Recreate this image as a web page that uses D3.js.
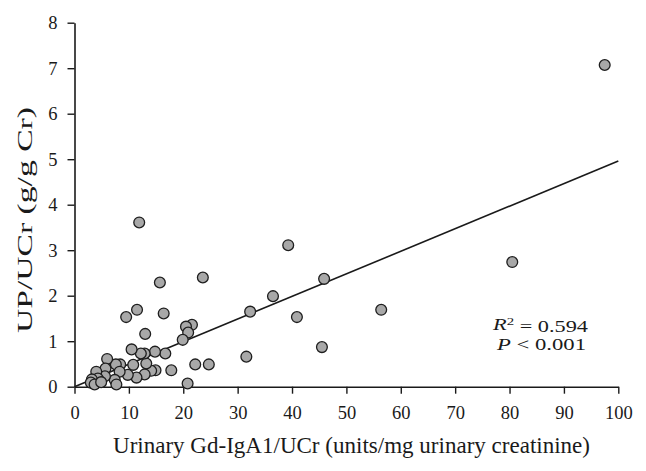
<!DOCTYPE html>
<html>
<head>
<meta charset="utf-8">
<script src="https://cdn.jsdelivr.net/npm/d3@7/dist/d3.min.js"></script>
<style>
  html, body { margin: 0; padding: 0; background: #ffffff; }
  svg { display: block; }
  text { font-family: "Liberation Serif", "DejaVu Serif", serif; fill: #1a1a1a; }
</style>
</head>
<body>
<svg id="chart" width="646" height="471"></svg>
<script>
// Data
const xValues = [97.5, 80.5, 56.4, 45.9, 45.5, 40.9, 39.3, 36.5, 32.3, 31.6,
  24.7, 23.6, 22.2, 21.6, 20.5, 20.9, 19.9, 20.8, 17.8, 16.7,
  16.4, 15.7, 14.8, 14.9, 14.1, 13.2, 13.0, 12.9, 12.2, 12.9,
  11.9, 11.5, 11.4, 10.5, 10.8, 9.5, 9.8, 8.4, 7.6, 8.3,
  7.4, 7.7, 6.0, 5.7, 5.6, 4.0, 4.3, 3.2, 3.0, 3.7, 4.9];
const yValues = [7.07, 2.74, 1.69, 2.37, 0.87, 1.53, 3.11, 1.99, 1.65, 0.66,
  0.49, 2.40, 0.49, 1.36, 1.32, 1.19, 1.03, 0.07, 0.36, 0.73,
  1.61, 2.29, 0.77, 0.36, 0.35, 0.51, 1.16, 0.73, 0.73, 0.27,
  3.61, 1.69, 0.20, 0.82, 0.48, 1.53, 0.26, 0.49, 0.49, 0.33,
  0.15, 0.05, 0.61, 0.40, 0.23, 0.33, 0.18, 0.16, 0.09, 0.05, 0.10];
const xTicks = [0, 10, 20, 30, 40, 50, 60, 70, 80, 90, 100];
const yTicks = [0, 1, 2, 3, 4, 5, 6, 7, 8];
const fitIntercept = 0;
const fitSlope = 0.0496;
const fitRange = [0, 100];
const statR2 = "0.594";
const statP = "0.001";
const xTitle = "Urinary Gd-IgA1/UCr (units/mg urinary creatinine)";
const yTitle = "UP/UCr (g/g Cr)";

const points = xValues.map((x, i) => ({ x: x, y: yValues[i] }));

const svg = d3.select("#chart");
const x = d3.scaleLinear().domain([0, 100]).range([74.5, 618.3]);
const y = d3.scaleLinear().domain([0, 8]).range([386.7, 22.7]);

// Axes
const xAxis = svg.append("g")
  .attr("transform", `translate(0,${y(0)})`)
  .call(d3.axisBottom(x).tickValues(xTicks).tickSize(7).tickPadding(12).tickSizeOuter(0).tickFormat(d3.format("d")));
const yAxis = svg.append("g")
  .attr("transform", `translate(${x(0)},0)`)
  .call(d3.axisLeft(y).tickValues(yTicks).tickSize(7).tickPadding(10).tickSizeOuter(0).tickFormat(d3.format("d")));

[xAxis, yAxis].forEach(g => {
  g.select(".domain").attr("stroke", "#1a1a1a").attr("stroke-width", 1.6);
  g.selectAll(".tick line").attr("stroke", "#1a1a1a").attr("stroke-width", 1.4);
  g.selectAll(".tick text")
    .attr("fill", "#1a1a1a")
    .style("font-family", "'Liberation Serif', serif")
    .style("font-size", "18.5px");
});
yAxis.selectAll(".tick text").attr("dy", "0.34em");

// Regression line
svg.append("line")
  .attr("x1", x(fitRange[0])).attr("y1", y(fitIntercept + fitSlope * fitRange[0]))
  .attr("x2", x(fitRange[1])).attr("y2", y(fitIntercept + fitSlope * fitRange[1]))
  .attr("stroke", "#1a1a1a").attr("stroke-width", 1.6);

// Points
svg.append("g").selectAll("circle").data(points).join("circle")
  .attr("cx", d => x(d.x)).attr("cy", d => y(d.y)).attr("r", 5.4)
  .attr("fill", "#a8a8a8").attr("stroke", "#1e1e1e").attr("stroke-width", 1.3);

// Stats annotation
const stat = svg.append("g").style("font-size", "16.5px");
const t1 = stat.append("text").attr("x", 493).attr("y", 330)
  .attr("textLength", 95).attr("lengthAdjust", "spacingAndGlyphs");
t1.append("tspan").style("font-style", "italic").text("R");
t1.append("tspan").attr("dy", "-0.45em").style("font-size", "11px").text("2");
t1.append("tspan").attr("dy", "0.45em").text(" = " + statR2);
const t2 = stat.append("text").attr("x", 497).attr("y", 350)
  .attr("textLength", 89).attr("lengthAdjust", "spacingAndGlyphs");
t2.append("tspan").style("font-style", "italic").text("P");
t2.append("tspan").text(" < " + statP);

// Axis titles
svg.append("text").attr("x", 113).attr("y", 453.3)
  .attr("textLength", 477).attr("lengthAdjust", "spacingAndGlyphs")
  .style("font-size", "22.5px").text(xTitle);
svg.append("text").attr("transform", "translate(32,333) rotate(-90)")
  .attr("textLength", 226).attr("lengthAdjust", "spacingAndGlyphs")
  .style("font-size", "21.5px").text(yTitle);
</script>
</body>
</html>
